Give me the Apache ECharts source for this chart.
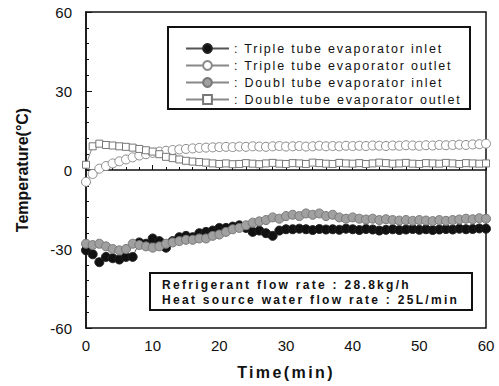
<!DOCTYPE html>
<html><head><meta charset="utf-8">
<script src="https://cdn.jsdelivr.net/npm/echarts@6/dist/echarts.min.js"></script>
<style>
html,body{margin:0;padding:0;background:#fff}
#c{width:499px;height:386px}
#c text[style*="lgsp"]{letter-spacing:1.8px}
#c text[style*="ntsp"]{letter-spacing:2.3px}
#c text[style*="xnsp"]{letter-spacing:2.4px}
</style>
</head><body><div id="c"></div>
<script>
var times = [];
for (var i = 0; i <= 60; i++) times.push(i);

var tripleInlet = [-30.5,-32,-35,-33,-33.5,-34,-33,-33,-27.5,-28,-26,-27,-29.5,-27,-25.5,-25,-25.5,-24,-23.5,-23,-22,
  -22,-21.5,-21,-22,-23.5,-23,-24,-25,-23,-22.5,
  -22.5,-22.3,-22.5,-22.8,-22.4,-22.6,-22.5,-22.7,-22.3,-22.5,-22.8,-22.4,-22.6,-23,-22.7,-22.5,-22.8,-22.6,-22.4,-22.7,-22.5,-22.8,-22.6,-22.4,-22.6,-22.3,-22.5,-22.4,-22.2,-22.3];
var tripleOutlet = [-4.5,-1.5,0.5,1.5,2.5,3.3,4,4.8,5.5,6,6.5,7,7.3,7.6,7.8,8,8.2,8.4,8.5,8.6,8.7,
  8.8,8.7,8.9,8.8,9,8.9,8.8,9,9.1,8.9,9,9.1,8.9,9,9.2,9,9.1,9,9.2,9.1,
  9.2,9.1,9.3,9.2,9.1,9.3,9.2,9.4,9.3,9.2,9.4,9.3,9.5,9.4,9.5,9.6,9.5,9.7,9.8,10];
var doubleInlet = [-28,-28.5,-28,-29,-30,-30.5,-30,-28,-28.5,-29,-29.5,-29,-28,-27.5,-27,-26.5,-26.5,-26,-26,-25,-24.5,
  -23.5,-22.5,-22,-21,-20,-19.5,-19,-18,-18.5,-17.5,-17,-17.5,-16.5,-17,-16.5,-17.5,-17,-18,-18.5,-18,
  -18.5,-18.8,-18.5,-19,-18.7,-19,-19.2,-19,-19.3,-19,-19.2,-19.4,-19,-19.3,-19,-18.8,-18.5,-18.7,-18.3,-18.5];
var doubleOutlet = [2,9,10,9.5,9.3,9,8.8,8.5,8,7.5,7,6,5,4.5,4,3.5,3.2,3,2.8,2.5,2.3,
  2.5,2.2,2.3,2.6,2.4,2.2,2.5,2.7,2.4,2.3,2.6,2.5,2.3,2.8,2.6,2.4,2.3,2.7,2.5,2.4,
  2.6,2.3,2.5,2.8,2.6,2.4,2.5,2.7,2.4,2.3,2.6,2.5,2.4,2.7,2.5,2.3,2.6,2.5,2.4,2.5];

var seriesNames = ['Triple tube evaporator inlet','Triple tube evaporator outlet','Doubl tube evaporator inlet','Double tube evaporator outlet'];
var xTicks = [0,10,20,30,40,50,60];
var yTicks = [-60,-30,0,30,60];
var noteLines = ['Refrigerant flow rate : 28.8kg/h','Heat source water flow rate : 25L/min'];

function pairs(arr){ return arr.map(function(v,i){ return [times[i], v]; }); }

var chart = echarts.init(document.getElementById('c'), null, {renderer:'svg'});
var font = '"Liberation Sans", Arial, sans-serif';
chart.setOption({
  animation:false,
  backgroundColor:'#fff',
  grid:{left:86,right:13,top:12,bottom:58,show:true,borderColor:'#111',borderWidth:1.5},
  xAxis:{type:'value',min:0,max:60,interval:10,
    name:'Time(min)',nameLocation:'middle',nameGap:36,
    nameTextStyle:{fontFamily:'"Liberation Sans", xnsp, Arial',fontSize:16,fontWeight:'bold',color:'#111'},
    axisLine:{show:true,lineStyle:{color:'#111',width:1.5}},
    axisTick:{show:true,inside:true,length:5,lineStyle:{color:'#111'}},
    minorTick:{show:true,splitNumber:5,length:3,lineStyle:{color:'#111'}},
    splitLine:{show:false},
    axisLabel:{fontFamily:font,fontSize:15,color:'#111',margin:10}},
  yAxis:{type:'value',min:-60,max:60,interval:30,
    name:'Temperature(°C)',nameLocation:'middle',nameGap:56,
    nameTextStyle:{fontFamily:font,fontSize:16,fontWeight:'bold',color:'#111'},
    axisLine:{show:true,lineStyle:{color:'#111',width:1.5}},
    axisTick:{show:true,inside:true,length:6,lineStyle:{color:'#111'}},
    minorTick:{show:true,splitNumber:5,length:3,lineStyle:{color:'#111'}},
    splitLine:{show:false},
    axisLabel:{fontFamily:font,fontSize:15,color:'#111',margin:14}},
  legend:{orient:'vertical',left:180,top:37,itemWidth:43,itemHeight:11,itemGap:4,
    data:seriesNames,
    formatter:function(n){return ': '+n;},
    textStyle:{fontFamily:'"Liberation Sans", lgsp, Arial',fontSize:12.5,color:'#111'}},
  graphic:[
    {type:'rect',shape:{x:168,y:27,width:302,height:82},style:{fill:'rgba(0,0,0,0)',stroke:'#111',lineWidth:2},z:100},
    {type:'rect',shape:{x:150,y:273,width:322,height:37},style:{fill:'#fff',stroke:'#111',lineWidth:2},z:100},
    {type:'text',x:162,y:279,style:{text:noteLines[0],font:'bold 12px "Liberation Sans", ntsp, Arial',fill:'#111'},z:101},
    {type:'text',x:162,y:294,style:{text:noteLines[1],font:'bold 12px "Liberation Sans", ntsp, Arial',fill:'#111'},z:101}
  ],
  series:[
    {name:seriesNames[0],type:'line',data:pairs(tripleInlet),symbol:'circle',symbolSize:9,showAllSymbol:true,
      lineStyle:{color:'#555',width:1},itemStyle:{color:'#111',borderColor:'#222',borderWidth:1}},
    {name:seriesNames[1],type:'line',data:pairs(tripleOutlet),symbol:'circle',symbolSize:9,showAllSymbol:true,
      lineStyle:{color:'#888',width:1},itemStyle:{color:'#fff',borderColor:'#8a8a8a',borderWidth:1}},
    {name:seriesNames[2],type:'line',data:pairs(doubleInlet),symbol:'circle',symbolSize:9,showAllSymbol:true,
      lineStyle:{color:'#888',width:1},itemStyle:{color:'#a0a0a0',borderColor:'#777',borderWidth:1}},
    {name:seriesNames[3],type:'line',data:pairs(doubleOutlet),symbol:'rect',symbolSize:7,showAllSymbol:true,
      lineStyle:{color:'#888',width:1},itemStyle:{color:'#fff',borderColor:'#777',borderWidth:1}}
  ]
});
</script></body></html>
